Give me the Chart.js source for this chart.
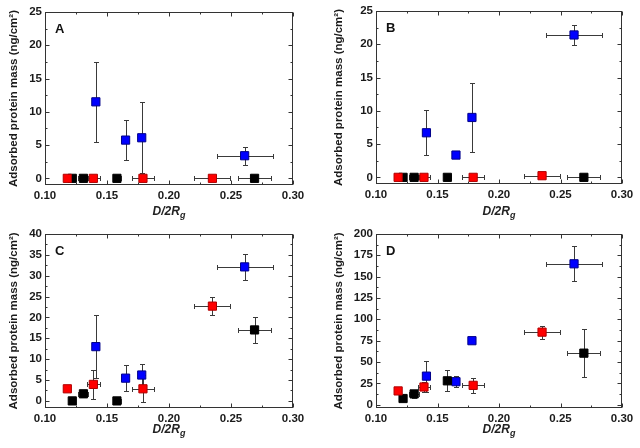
<!DOCTYPE html>
<html><head><meta charset="utf-8">
<script src="https://cdn.jsdelivr.net/npm/chart.js@4.4.0/dist/chart.umd.min.js"></script>
<style>
html,body{margin:0;padding:0;background:#fff;}
#wrap{position:relative;width:640px;height:448px;overflow:hidden;}
.p{position:absolute;width:320px;height:224px;}
</style></head><body>
<div id="wrap">
<div class="p" style="left:0;top:0"><canvas id="cA" width="320" height="224"></canvas></div>
<div class="p" style="left:320px;top:0"><canvas id="cB" width="320" height="224"></canvas></div>
<div class="p" style="left:0;top:224px"><canvas id="cC" width="320" height="224"></canvas></div>
<div class="p" style="left:320px;top:224px"><canvas id="cD" width="320" height="224"></canvas></div>
</div>
<script>
// ---- data ----
const xTicks = [0.10, 0.15, 0.20, 0.25, 0.30];
const redX = [0.118, 0.139, 0.179, 0.235];
const redXErr = [0, 0.005, 0.009, 0.0145];
const blackX = [0.122, 0.131, 0.158, 0.269];
const blackXErr = [0, 0.004, 0.003, 0.0135];
const blueX = [0.141, 0.165, 0.178, 0.261];
const blueXErr = [0, 0, 0, 0.0225];

const redYA = [0, 0, 0, 0];
const redYErrA = [0, 0, 0, 0];
const blackYA = [0, 0, 0, 0];
const blackYErrA = [0, 0, 0, 0];
const blueYA = [11.5, 5.75, 6.1, 3.4];
const blueYErrA = [6, 3, 5.3, 1.35];
const yTicksA = [0, 5, 10, 15, 20, 25];

const redYB = [0, 0, 0, 0.25];
const redYErrB = [0, 0, 0, 0];
const blackYB = [0, 0, 0, 0];
const blackYErrB = [0, 0, 0, 0];
const blueYB = [6.7, 3.35, 9.0, 21.4];
const blueYErrB = [3.4, 0, 5.2, 1.55];
const yTicksB = [0, 5, 10, 15, 20, 25];

const redYC = [2.9, 3.95, 2.9, 22.7];
const redYErrC = [0, 3.55, 3.2, 2.2];
const blackYC = [0, 1.7, 0, 17];
const blackYErrC = [0, 0.8, 0, 3.1];
const blueYC = [13, 5.45, 6.2, 32.1];
const blueYErrC = [7.5, 3.05, 2.7, 3.15];
const yTicksC = [0, 5, 10, 15, 20, 25, 30, 35, 40];

const redYD = [16.2, 20.8, 22.7, 85];
const redYErrD = [0, 5.3, 9, 7.7];
const blackYD = [7.3, 12.7, 28, 60.4];
const blackYErrD = [0, 5, 12.3, 27.7];
const blueYD = [33.5, 27, 75, 165];
const blueYErrD = [18, 6.7, 0, 20.4];
const yTicksD = [0, 25, 50, 75, 100, 125, 150, 175, 200];

const panelLabels = ['A', 'B', 'C', 'D'];
const yTitle = 'Adsorbed protein mass (ng/cm\u00B2)';

// ---- drawing ----
const FONT = '"Liberation Sans", Arial, sans-serif';
const AXC = '#333';

function pts(xs, ys) { return xs.map((x, i) => ({x: x, y: ys[i]})); }

const decor = {
  id: 'decor',
  beforeDatasetsDraw(chart) {
    const ctx = chart.ctx, xs = chart.scales.x, ys = chart.scales.y;
    ctx.save();
    ctx.strokeStyle = '#3a3a3a';
    ctx.lineWidth = 1;
    const cw = 2.5;
    chart.data.datasets.forEach(ds => {
      ds.data.forEach((p, i) => {
        const px = Math.round(xs.getPixelForValue(p.x)) + 0.5;
        const py = Math.round(ys.getPixelForValue(p.y)) + 0.5;
        const ye = ds.yErr[i], xe = ds.xErr[i];
        ctx.beginPath();
        if (ye > 0) {
          const t = Math.round(ys.getPixelForValue(p.y + ye)) + 0.5;
          const b = Math.round(ys.getPixelForValue(p.y - ye)) + 0.5;
          ctx.moveTo(px, t); ctx.lineTo(px, b);
          ctx.moveTo(px - cw, t); ctx.lineTo(px + cw, t);
          ctx.moveTo(px - cw, b); ctx.lineTo(px + cw, b);
        }
        if (xe > 0) {
          const l = Math.round(xs.getPixelForValue(p.x - xe)) + 0.5;
          const r = Math.round(xs.getPixelForValue(p.x + xe)) + 0.5;
          ctx.moveTo(l, py); ctx.lineTo(r, py);
          ctx.moveTo(l, py - cw); ctx.lineTo(l, py + cw);
          ctx.moveTo(r, py - cw); ctx.lineTo(r, py + cw);
        }
        ctx.stroke();
      });
    });
    ctx.restore();
  },
  afterDraw(chart) {
    const ctx = chart.ctx, a = chart.chartArea, xs = chart.scales.x, ys = chart.scales.y;
    const o = chart.options.plugins.decor;
    ctx.save();
    ctx.strokeStyle = AXC;
    ctx.lineWidth = 1;
    const L = Math.round(a.left) + 0.5, R = Math.round(a.right) - 0.5;
    const T = Math.round(a.top) + 0.5, B = Math.round(a.bottom) - 0.5;
    ctx.strokeRect(L, T, R - L, B - T);
    ctx.beginPath();
    const yt = ys.ticks.map(t => t.value);
    const ystep = yt[1] - yt[0];
    yt.forEach((v, i) => {
      const py = Math.round(ys.getPixelForValue(v)) + 0.5;
      ctx.moveTo(L, py); ctx.lineTo(L + 4, py);
      ctx.moveTo(R, py); ctx.lineTo(R - 4, py);
      if (i < yt.length - 1) {
        const pm = Math.round(ys.getPixelForValue(v + ystep / 2)) + 0.5;
        ctx.moveTo(L, pm); ctx.lineTo(L + 2, pm);
        ctx.moveTo(R, pm); ctx.lineTo(R - 2, pm);
      }
    });
    const xt = xs.ticks.map(t => t.value);
    const xstep = xt[1] - xt[0];
    xt.forEach((v, i) => {
      const px = Math.round(xs.getPixelForValue(v)) + 0.5;
      ctx.moveTo(px, B); ctx.lineTo(px, B - 4);
      ctx.moveTo(px, T); ctx.lineTo(px, T + 4);
      if (i < xt.length - 1) {
        const pm = Math.round(xs.getPixelForValue(v + xstep / 2)) + 0.5;
        ctx.moveTo(pm, B); ctx.lineTo(pm, B - 2);
        ctx.moveTo(pm, T); ctx.lineTo(pm, T + 2);
      }
    });
    ctx.stroke();
    // panel letter
    ctx.fillStyle = '#111';
    ctx.font = 'bold 13px ' + FONT;
    ctx.textBaseline = 'alphabetic';
    ctx.textAlign = 'left';
    ctx.fillText(o.letter, a.left + 10, a.top + 21);
    // x title D/2Rg
    ctx.fillStyle = '#222';
    ctx.font = 'italic bold 12px ' + FONT;
    const main = 'D/2R';
    const w1 = ctx.measureText(main).width;
    ctx.font = 'italic bold 9px ' + FONT;
    const w2 = ctx.measureText('g').width;
    const cx = (a.left + a.right) / 2;
    const sx = cx - (w1 + w2) / 2;
    ctx.font = 'italic bold 12px ' + FONT;
    ctx.fillText(main, sx, o.titleY);
    ctx.font = 'italic bold 9px ' + FONT;
    ctx.fillText('g', sx + w1, o.titleY + 3);
    ctx.restore();
  }
};

function makeChart(id, cfg) {
  const datasets = [
    {data: pts(redX, cfg.red), xErr: redXErr, yErr: cfg.redErr, backgroundColor: '#ff0000', borderColor: '#b00000'},
    {data: pts(blackX, cfg.black), xErr: blackXErr, yErr: cfg.blackErr, backgroundColor: '#000000', borderColor: '#000000'},
    {data: pts(blueX, cfg.blue), xErr: blueXErr, yErr: cfg.blueErr, backgroundColor: '#0000ff', borderColor: '#00008a'}
  ].map(d => Object.assign(d, {pointStyle: 'rect', pointRadius: 5.8, borderWidth: 1, showLine: false}));
  return new Chart(document.getElementById(id), {
    type: 'scatter',
    data: {datasets: datasets},
    options: {
      responsive: false,
      animation: false,
      devicePixelRatio: 1,
      layout: {padding: {top: cfg.top, right: 320 - cfg.right, bottom: 0, left: 0}},
      plugins: {
        legend: {display: false},
        tooltip: {enabled: false},
        decor: {letter: cfg.letter, titleY: cfg.titleY}
      },
      scales: {
        x: {
          type: 'linear', min: 0.10, max: 0.30,
          grid: {display: false, drawTicks: false},
          border: {display: false},
          afterBuildTicks: s => { s.ticks = xTicks.map(v => ({value: v})); },
          afterFit: s => { s.height = 224 - cfg.bottom; },
          ticks: {
            padding: 4, color: '#1a1a1a', maxRotation: 0, autoSkip: false,
            font: {family: FONT, size: 11.5, weight: 'bold'},
            callback: v => Number(v).toFixed(2)
          }
        },
        y: {
          type: 'linear', min: cfg.ymin, max: cfg.yTicks[cfg.yTicks.length - 1],
          grid: {display: false, drawTicks: false},
          border: {display: false},
          afterBuildTicks: s => { s.ticks = cfg.yTicks.map(v => ({value: v})); },
          afterFit: s => { s.width = cfg.left; },
          title: {
            display: true, text: yTitle, color: '#1a1a1a',
            font: {family: FONT, size: 11.5, weight: 'bold'},
            padding: {top: cfg.titlePad, bottom: 0}
          },
          ticks: {
            padding: 3, color: '#1a1a1a', autoSkip: false,
            font: {family: FONT, size: 11.5, weight: 'bold'},
            callback: v => String(v)
          }
        }
      }
    },
    plugins: [decor]
  });
}

makeChart('cA', {letter: panelLabels[0], red: redYA, redErr: redYErrA, black: blackYA, blackErr: blackYErrA, blue: blueYA, blueErr: blueYErrA, yTicks: yTicksA, ymin: -1, left: 45, right: 293, top: 12, bottom: 185, titlePad: 7, titleY: 215});
makeChart('cB', {letter: panelLabels[1], red: redYB, redErr: redYErrB, black: blackYB, blackErr: blackYErrB, blue: blueYB, blueErr: blueYErrB, yTicks: yTicksB, ymin: -1, left: 56, right: 302, top: 11, bottom: 184, titlePad: 12, titleY: 215});
makeChart('cC', {letter: panelLabels[2], red: redYC, redErr: redYErrC, black: blackYC, blackErr: blackYErrC, blue: blueYC, blueErr: blueYErrC, yTicks: yTicksC, ymin: -1.7, left: 45, right: 293, top: 8, bottom: 184, titlePad: 7, titleY: 209});
makeChart('cD', {letter: panelLabels[3], red: redYD, redErr: redYErrD, black: blackYD, blackErr: blackYErrD, blue: blueYD, blueErr: blueYErrD, yTicks: yTicksD, ymin: -3.8, left: 56, right: 302, top: 7, bottom: 184, titlePad: 12, titleY: 209});
</script>
</body></html>
